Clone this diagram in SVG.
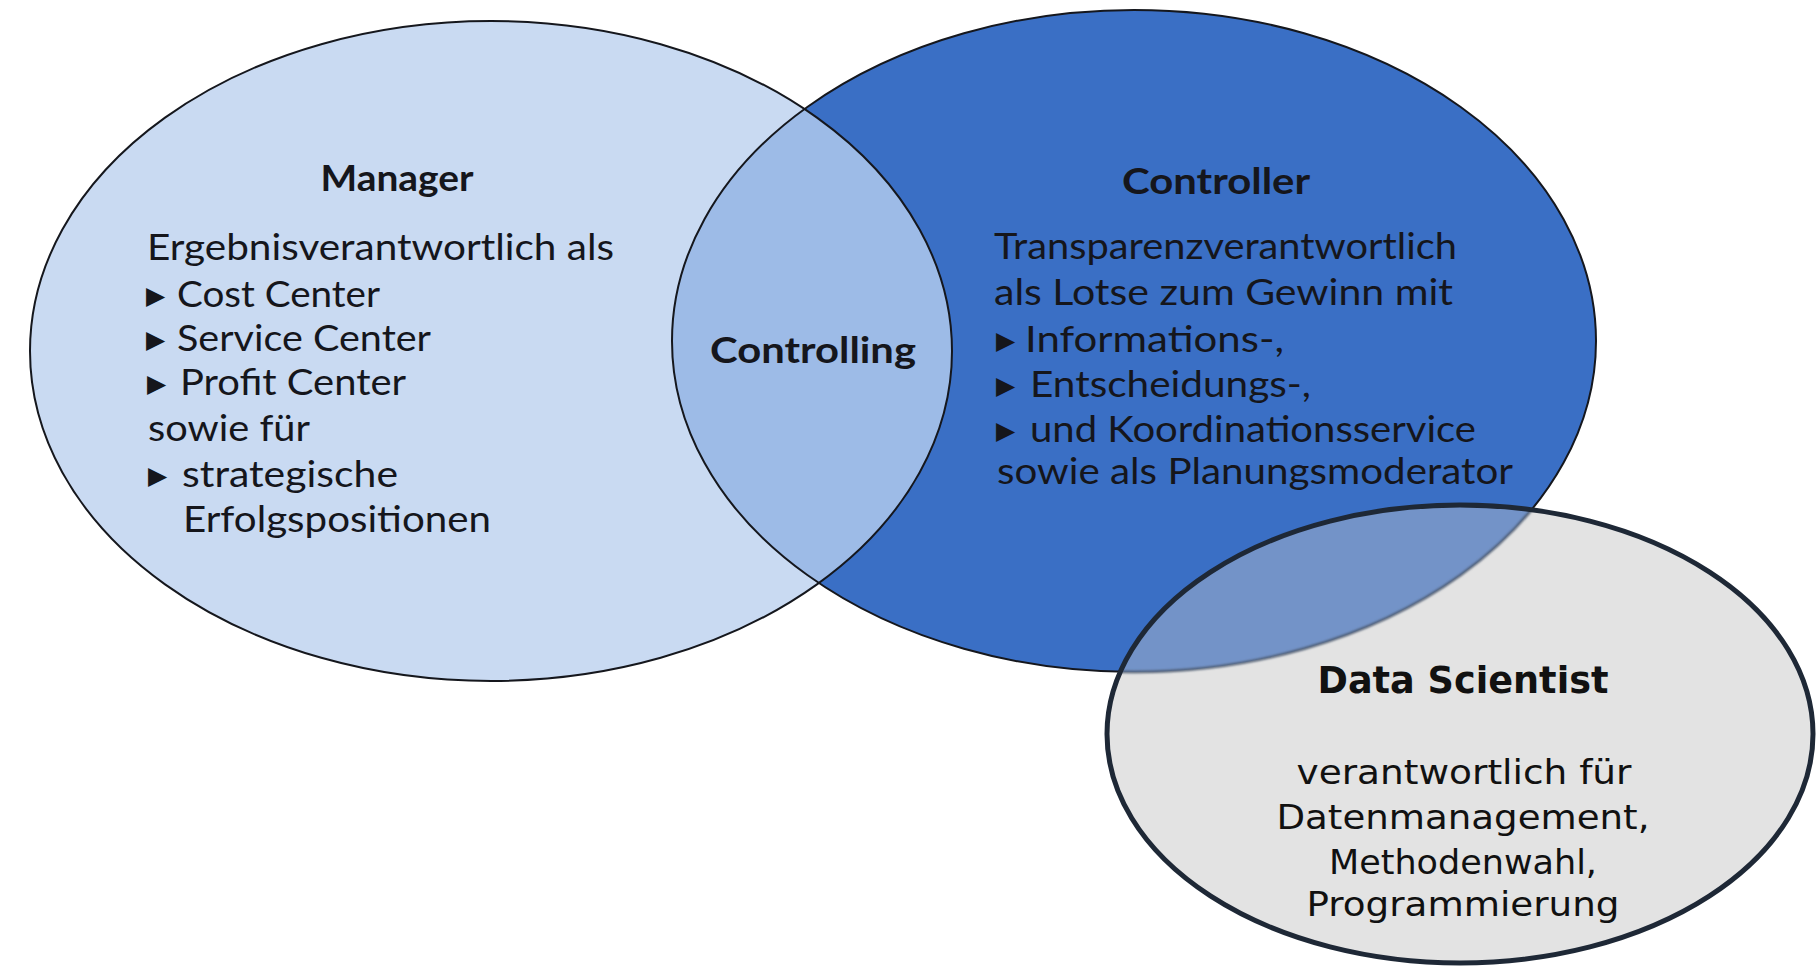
<svg xmlns="http://www.w3.org/2000/svg" width="1818" height="968" viewBox="0 0 1818 968">
  <style>
    .ring { stroke: #15171d; stroke-width: 2; fill: none; }
    .book { font-family: Lato, "Open Sans", "Liberation Sans", sans-serif; font-size: 37px; fill: #15161c; }
    .book-b { font-family: Lato, "Open Sans", "Liberation Sans", sans-serif; font-size: 36px; font-weight: 700; fill: #15161c; }
    .bullet { font-family: "DejaVu Sans", sans-serif; font-size: 25px; fill: #15161c; }
    .ds { font-family: "DejaVu Sans", "Liberation Sans", sans-serif; font-size: 34px; fill: #111111; text-anchor: middle; }
    .ds-b { font-family: "DejaVu Sans", "Liberation Sans", sans-serif; font-size: 38px; font-weight: 700; fill: #111111; text-anchor: middle; }
  </style>
  <defs>
    <clipPath id="clip-controller">
      <ellipse cx="1134" cy="341" rx="462" ry="331"/>
    </clipPath>
    <clipPath id="clip-ds">
      <ellipse cx="1460" cy="734" rx="353" ry="229"/>
    </clipPath>
    <filter id="soft" x="-5%" y="-5%" width="110%" height="110%">
      <feGaussianBlur stdDeviation="1.2"/>
    </filter>
  </defs>

  <rect width="1818" height="968" fill="#ffffff"/>

  <!-- Manager circle -->
  <g id="manager">
    <ellipse cx="491" cy="351" rx="461" ry="330" fill="#c9daf2"/>
  </g>

  <!-- Controller circle -->
  <g id="controller">
    <ellipse cx="1134" cy="341" rx="462" ry="331" fill="#3a6fc5"/>
  </g>

  <!-- Controlling: overlap of manager and controller -->
  <g id="controlling">
    <ellipse cx="491" cy="351" rx="461" ry="330" fill="#9dbbe7" clip-path="url(#clip-controller)"/>
  </g>

  <!-- outlines of the two book circles -->
  <g id="outlines">
    <ellipse class="ring" cx="491" cy="351" rx="461" ry="330"/>
    <ellipse class="ring" cx="1134" cy="341" rx="462" ry="331"/>
  </g>

  <!-- Data Scientist circle, lying over the controller circle -->
  <g id="data-scientist">
    <ellipse cx="1460" cy="734" rx="353" ry="229" fill="#e3e3e3"/>
    <g clip-path="url(#clip-ds)">
      <ellipse cx="1134" cy="341" rx="462" ry="331" fill="#7393c8"/>
      <ellipse cx="1134" cy="341" rx="462" ry="331" fill="none" stroke="#4c5a70" stroke-width="2.5" filter="url(#soft)"/>
    </g>
    <ellipse cx="1460" cy="734" rx="353" ry="229" fill="none" stroke="#1e2836" stroke-width="5"/>
  </g>

  <!-- Manager text -->
  <g id="manager-text">
    <text class="book-b" x="397" y="191" text-anchor="middle" textLength="153" lengthAdjust="spacingAndGlyphs">Manager</text>
    <text class="book" x="147" y="260" textLength="467" lengthAdjust="spacingAndGlyphs">Ergebnisverantwortlich als</text>
    <text class="bullet" x="146" y="304">▶</text>
    <text class="book" x="177" y="307" textLength="203" lengthAdjust="spacingAndGlyphs">Cost Center</text>
    <text class="bullet" x="146" y="348">▶</text>
    <text class="book" x="177" y="351" textLength="254" lengthAdjust="spacingAndGlyphs">Service Center</text>
    <text class="bullet" x="147" y="392">▶</text>
    <text class="book" x="180" y="395" textLength="226" lengthAdjust="spacingAndGlyphs">Profit Center</text>
    <text class="book" x="148" y="441" textLength="162" lengthAdjust="spacingAndGlyphs">sowie für</text>
    <text class="bullet" x="148" y="484">▶</text>
    <text class="book" x="182" y="487" textLength="216" lengthAdjust="spacingAndGlyphs">strategische</text>
    <text class="book" x="183" y="532" textLength="308" lengthAdjust="spacingAndGlyphs">Erfolgspositionen</text>
  </g>

  <!-- Controlling label -->
  <g id="controlling-text">
    <text class="book-b" x="813" y="363" text-anchor="middle" textLength="206" lengthAdjust="spacingAndGlyphs">Controlling</text>
  </g>

  <!-- Controller text -->
  <g id="controller-text">
    <text class="book-b" x="1216" y="194" text-anchor="middle" textLength="188" lengthAdjust="spacingAndGlyphs">Controller</text>
    <text class="book" x="994" y="259" textLength="463" lengthAdjust="spacingAndGlyphs">Transparenzverantwortlich</text>
    <text class="book" x="994" y="305" textLength="459" lengthAdjust="spacingAndGlyphs">als Lotse zum Gewinn mit</text>
    <text class="bullet" x="996" y="349">▶</text>
    <text class="book" x="1025" y="352" textLength="259" lengthAdjust="spacingAndGlyphs">Informations-,</text>
    <text class="bullet" x="996" y="394">▶</text>
    <text class="book" x="1030" y="397" textLength="281" lengthAdjust="spacingAndGlyphs">Entscheidungs-,</text>
    <text class="bullet" x="996" y="439">▶</text>
    <text class="book" x="1030" y="442" textLength="446" lengthAdjust="spacingAndGlyphs">und Koordinationsservice</text>
    <text class="book" x="997" y="484" textLength="516" lengthAdjust="spacingAndGlyphs">sowie als Planungsmoderator</text>
  </g>

  <!-- Data Scientist text -->
  <g id="data-scientist-text">
    <text class="ds-b" x="1463" y="693" textLength="291" lengthAdjust="spacingAndGlyphs">Data Scientist</text>
    <text class="ds" x="1464" y="784" textLength="335" lengthAdjust="spacingAndGlyphs">verantwortlich für</text>
    <text class="ds" x="1463" y="829" textLength="373" lengthAdjust="spacingAndGlyphs">Datenmanagement,</text>
    <text class="ds" x="1463" y="874" textLength="268" lengthAdjust="spacingAndGlyphs">Methodenwahl,</text>
    <text class="ds" x="1463" y="916" textLength="313" lengthAdjust="spacingAndGlyphs">Programmierung</text>
  </g>
</svg>
